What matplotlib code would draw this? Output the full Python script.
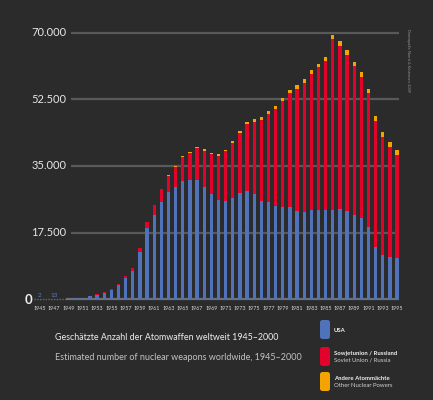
import matplotlib
matplotlib.use("Agg")
import matplotlib.pyplot as plt
from matplotlib.patches import FancyBboxPatch
import numpy as np

years = list(range(1945, 1996))
usa = [2, 9, 13, 50, 170, 299, 438, 841, 1169, 1703, 2422, 3692, 5543, 7345, 12298,
       18638, 22229, 25540, 28133, 29463, 31139, 31175, 31255, 29561, 27552, 26008,
       25830, 26516, 27835, 28537, 27519, 25914, 25542, 24418, 24138, 24104, 23208,
       22886, 23305, 23459, 23368, 23317, 23575, 23205, 22217, 21392, 19008, 13708,
       11511, 10979, 10904]
ussr = [0, 0, 0, 0, 1, 5, 25, 50, 120, 150, 200, 426, 660, 869, 1060, 1605, 2471,
        3322, 4238, 5221, 6129, 7089, 8339, 9399, 10538, 11643, 13092, 14478, 15915,
        17385, 19055, 21205, 23044, 25393, 27935, 30062, 32049, 33952, 35804, 37431,
        39197, 45000, 43000, 41000, 39000, 37000, 35000, 33000, 31000, 29000, 27000]
others = [0, 0, 0, 0, 0, 0, 0, 0, 1, 5, 10, 15, 20, 22, 25, 30, 50, 205, 280, 315,
          347, 326, 331, 351, 394, 391, 365, 420, 541, 640, 723, 752, 778, 805, 820,
          880, 954, 969, 979, 964, 1086, 1078, 1135, 1122, 1145, 1236, 1272, 1274,
          1259, 1194, 1200]
yticks = [0, 17500, 35000, 52500, 70000]
ytick_labels = ["0", "17.500", "35.000", "52.500", "70.000"]
xtick_years = list(range(1945, 1996, 2))
small_labels = {1945: "2", 1947: "13"}

title_de = "Geschätzte Anzahl der Atomwaffen weltweit 1945–2000"
title_en = "Estimated number of nuclear weapons worldwide, 1945–2000"
legend_items = [("USA", None, "#4f72bb"),
                ("Sowjetunion / Russland", "Soviet Union / Russia", "#e3032a"),
                ("Andere Atommächte", "Other Nuclear Powers", "#f5a300")]

BG = "#2b2b2b"
GRID = "#595959"
BLUE, RED, ORANGE = [c for _, _, c in legend_items]
FONT = "Lato"

W, H = 433, 400
fig = plt.figure(figsize=(W / 100, H / 100), dpi=100, facecolor=BG)

# pixel geometry
px_per_year = 7.14
x0_px = 40.0
y0_px = 299.3
px_per_unit = 3.811 / 1000.0
ax_top_px = 10
ax = fig.add_axes([0, (H - y0_px) / H, 1, (y0_px - ax_top_px) / H])
ax.set_facecolor(BG)
ax.set_xlim(1945 - x0_px / px_per_year, 1945 + (W - x0_px) / px_per_year)
ax.set_ylim(0, (y0_px - ax_top_px) / px_per_unit)
for s in ax.spines.values():
    s.set_visible(False)
ax.set_xticks([])
ax.set_yticks([])

# grid lines
g_x0 = 1945 + (71 - x0_px) / px_per_year
g_x1 = 1945 + (399 - x0_px) / px_per_year
for v in yticks[1:]:
    ax.plot([g_x0, g_x1], [v, v], color=GRID, lw=1.6, zorder=1, solid_capstyle="butt")

# baseline
b_xa = 1945 + (34 - x0_px) / px_per_year
b_xb = 1945 + (66 - x0_px) / px_per_year
ax.plot([b_xa, b_xb], [0, 0], color="#6a6a6a", lw=1.0, ls=(0, (1, 1)), zorder=1, clip_on=False)
ax.plot([b_xb, g_x1], [0, 0], color="#707070", lw=1.6, zorder=1, clip_on=False,
        solid_capstyle="butt")

yrs = np.array(years)
u = np.array(usa)
r = np.array(ussr)
o = np.array(others)
bw = 0.46
ax.bar(yrs, u, width=bw, color=BLUE, zorder=3, linewidth=0)
ax.bar(yrs, r, width=bw, bottom=u, color=RED, zorder=3, linewidth=0)
ax.bar(yrs, o, width=bw, bottom=u + r, color=ORANGE, zorder=3, linewidth=0)

# small value labels
for y, t in small_labels.items():
    ax.text(y, 400, t, color="#5a7dc6", fontsize=4.6, ha="center", va="bottom",
            family=FONT, zorder=4)

# y tick labels
for v, t in zip(yticks, ytick_labels):
    if v == 0:
        fig.text(32 / W, 1 - (y0_px + 0.5) / H, t, color="#f0f0f0", fontsize=9.5,
                 fontweight="bold", ha="right", va="center", family=FONT)
    else:
        yp = y0_px - v * px_per_unit
        fig.text(66.5 / W, 1 - yp / H, t, color="#e6e6e6", fontsize=8,
                 ha="right", va="center", family=FONT)

# x tick labels
for y in xtick_years:
    xp = x0_px + (y - 1945) * px_per_year
    fig.text(xp / W, 1 - 308 / H, str(y), color="#d8d8d8", fontsize=3.9,
             ha="center", va="center", family=FONT, fontstretch="condensed")

# titles
fig.text(55 / W, 1 - 337 / H, title_de, color="#eeeeee", fontsize=6.4,
         ha="left", va="center", family=FONT)
fig.text(55 / W, 1 - 357 / H, title_en, color="#c2c2c2", fontsize=6.5,
         ha="left", va="center", family=FONT)

# legend
sq_y = [320, 347, 372]
for (l1, l2, c), yt in zip(legend_items, sq_y):
    p = FancyBboxPatch((320 / W, 1 - (yt + 19) / H), 10 / W, 19 / H,
                       boxstyle="round,pad=0,rounding_size=0.006",
                       transform=fig.transFigure, facecolor=c, edgecolor="none")
    fig.patches.append(p)
    if l2 is None:
        fig.text(334 / W, 1 - (yt + 10) / H, l1, color="#f0f0f0", fontsize=4.3,
                 ha="left", va="center", family=FONT, fontweight="bold")
    else:
        fig.text(334 / W, 1 - (yt + 6.5) / H, l1, color="#f0f0f0", fontsize=4.3,
                 ha="left", va="center", family=FONT, fontweight="bold")
        fig.text(334 / W, 1 - (yt + 13.5) / H, l2, color="#d0d0d0", fontsize=4.3,
                 ha="left", va="center", family=FONT)

# vertical credit text
fig.text(408 / W, 1 - 60 / H, "Datenquelle: Norris & Kristensen, 2009", color="#9a9a9a",
         fontsize=2.6, rotation=-90, ha="center", va="center", family=FONT)

fig.savefig("out.png", dpi=100, facecolor=BG)
